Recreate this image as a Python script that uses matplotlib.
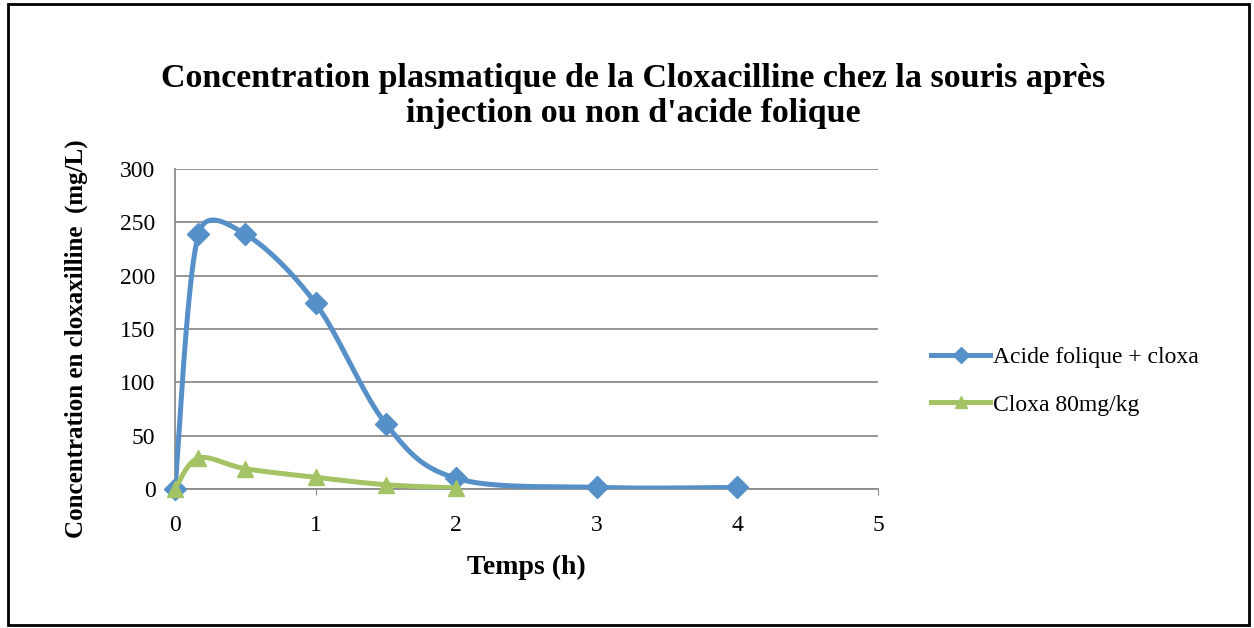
import numpy as np
import matplotlib
matplotlib.use("Agg")
import matplotlib.pyplot as plt
from matplotlib.lines import Line2D
from matplotlib.patches import Rectangle

# data
temps_af = [0, 0.167, 0.5, 1, 1.5, 2, 3, 4]
conc_af = [0, 239, 239, 174, 61, 10, 1.5, 1.5]
temps_cx = [0, 0.167, 0.5, 1, 1.5, 2]
conc_cx = [0, 29, 19, 11, 4, 1]
labels = ["Acide folique + cloxa", "Cloxa 80mg/kg"]

BLUE = "#5690C8"
GREEN = "#A3C365"
FONT = "Liberation Serif"

# axes box in pixels (figure is 1254x628 at dpi 100)
AX_L, AX_R, AX_T, AX_B = 175, 878, 169, 489
XMAX, YMAX = 5, 300


def smooth(x, y, n=40, clamp=0.55):
    """Excel-like smoothed line: Catmull-Rom bezier, handles clamped in pixel space."""
    kx = (AX_R - AX_L) / XMAX
    ky = (AX_B - AX_T) / YMAX
    pts = np.column_stack([np.asarray(x, float) * kx, np.asarray(y, float) * ky])
    ext = np.vstack([pts[:1], pts, pts[-1:]])
    t = np.linspace(0, 1, n)[:, None]
    out = []
    for i in range(1, len(ext) - 2):
        p0, p3 = ext[i], ext[i + 1]
        seg = np.linalg.norm(p3 - p0)
        h1 = (ext[i + 1] - ext[i - 1]) / 6
        h2 = (ext[i + 2] - ext[i]) / 6
        for h in (h1, h2):
            ln = np.linalg.norm(h)
            if ln > clamp * seg:
                h *= clamp * seg / ln
        p1 = p0 + h1
        p2 = p3 - h2
        b = (1 - t) ** 3 * p0 + 3 * (1 - t) ** 2 * t * p1 + 3 * (1 - t) * t ** 2 * p2 + t ** 3 * p3
        out.append(b)
    out = np.vstack(out)
    return out[:, 0] / kx, out[:, 1] / ky


fig = plt.figure(figsize=(12.54, 6.28), dpi=100)
fig.patches.append(Rectangle((0.006, 0.005), 0.99, 0.988, transform=fig.transFigure,
                             fill=False, edgecolor="black", linewidth=2))

ax = fig.add_axes([AX_L / 1254, 1 - AX_B / 628, (AX_R - AX_L) / 1254, (AX_B - AX_T) / 628])

sx, sy = smooth(temps_af, conc_af)
ax.plot(sx, sy, color=BLUE, linewidth=3.6, solid_capstyle="round", zorder=3)
ax.plot(temps_af, conc_af, linestyle="none", marker="D", markersize=11,
        color=BLUE, zorder=4, clip_on=False)
sx, sy = smooth(temps_cx, conc_cx)
ax.plot(sx, sy, color=GREEN, linewidth=3.6, solid_capstyle="round", zorder=5)
ax.plot(temps_cx, conc_cx, linestyle="none", marker="^", markersize=12,
        color=GREEN, zorder=6, clip_on=False)

ax.set_xlim(0, XMAX)
ax.set_ylim(0, YMAX)
ax.set_xticks(range(0, 6))
ax.set_yticks(range(0, 301, 50))
ax.grid(axis="y", color="#8c8c8c", linewidth=1.3)
ax.set_axisbelow(True)
for s in ["top", "right"]:
    ax.spines[s].set_visible(False)
for s in ["left", "bottom"]:
    ax.spines[s].set_color("#8c8c8c")
    ax.spines[s].set_linewidth(1.3)
ax.tick_params(axis="y", length=0, pad=14, labelsize=17)
ax.tick_params(axis="x", length=4, color="#8c8c8c", pad=15, labelsize=17, direction="out")
for lab in ax.get_xticklabels() + ax.get_yticklabels():
    lab.set_fontfamily(FONT)

ax.set_xlabel("Temps (h)", fontsize=20, fontweight="bold", family=FONT)
ax.xaxis.set_label_coords(0.5, -0.205)
ax.set_ylabel("Concentration en cloxaxilline  (mg/L)", fontsize=18, fontweight="bold",
              family=FONT)
ax.yaxis.set_label_coords(-0.124, 0.47)

fig.text(0.505, 1 - 96 / 628, "Concentration plasmatique de la Cloxacilline chez la souris après\n"
         "injection ou non d'acide folique", ha="center", va="center", fontsize=24.5,
         fontweight="bold", family=FONT, linespacing=1.18)

handles = [Line2D([], [], color=BLUE, linewidth=3.6, marker="D", markersize=8),
           Line2D([], [], color=GREEN, linewidth=3.6, marker="^", markersize=9)]
fig.legend(handles, labels, loc="center left", bbox_to_anchor=(910 / 1254, 1 - 381 / 628),
           frameon=False, handlelength=2.5, handletextpad=0.1, labelspacing=1.1,
           prop={"family": FONT, "size": 17})

fig.savefig("out.png", dpi=100, facecolor="white")
